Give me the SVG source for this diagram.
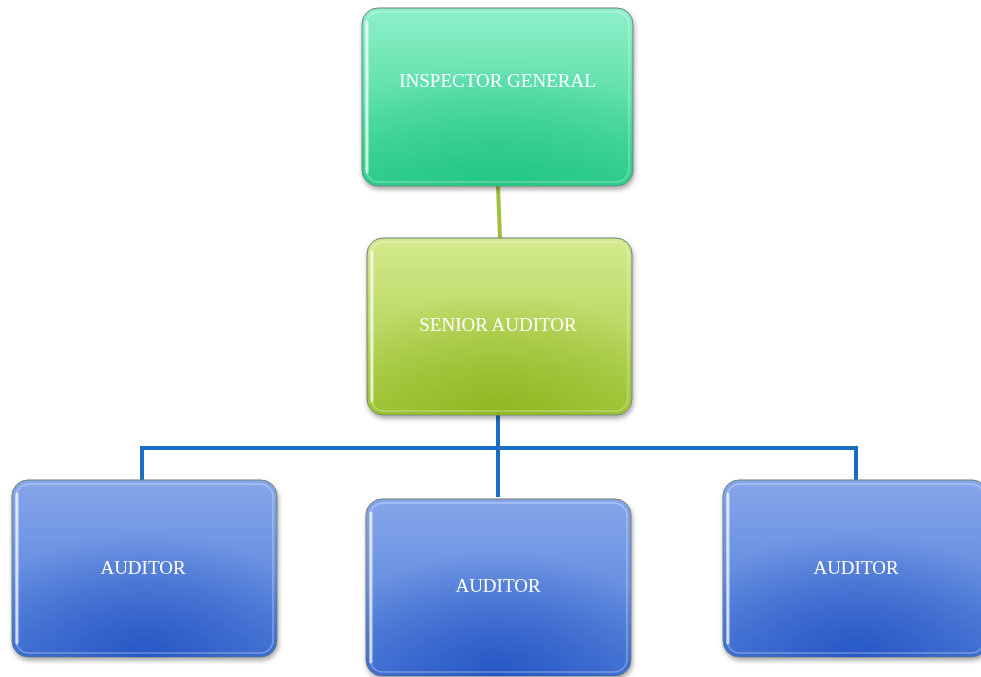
<svg xmlns="http://www.w3.org/2000/svg" width="981" height="677" viewBox="0 0 981 677">
<style>
.lbl{font-family:"Liberation Serif","DejaVu Serif",serif;font-size:19px;fill:#ffffff;text-anchor:middle}
.box{stroke:#6f7f78;stroke-width:1}
.hl{fill:none;stroke:#ffffff;stroke-opacity:0.3;stroke-width:1.5}
.hle{fill:none;stroke:#ffffff;stroke-opacity:0.7;stroke-width:3;stroke-linecap:round}
.conn-b{fill:none;stroke:#1a6fc4;stroke-width:4}
.conn-g{fill:none;stroke:#9fbf3a;stroke-width:4}
</style>
<defs>
<filter id="sh" x="-10%" y="-10%" width="120%" height="125%">
<feGaussianBlur in="SourceAlpha" stdDeviation="2.5"/>
<feOffset dx="1" dy="3" result="b"/>
<feComponentTransfer><feFuncA type="linear" slope="0.35"/></feComponentTransfer>
<feMerge><feMergeNode/><feMergeNode in="SourceGraphic"/></feMerge>
</filter>
<linearGradient id="gT" x1="0" y1="0" x2="0" y2="1">
<stop offset="0" stop-color="#8ef0c9"/>
<stop offset="1" stop-color="#2fcf8e"/>
</linearGradient>
<radialGradient id="gTr" cx="0.5" cy="1" r="0.7">
<stop offset="0" stop-color="#22c482" stop-opacity="0.8"/>
<stop offset="1" stop-color="#22c482" stop-opacity="0"/>
</radialGradient>
<linearGradient id="gS" x1="0" y1="0" x2="0" y2="1">
<stop offset="0" stop-color="#d4e98e"/>
<stop offset="1" stop-color="#a3c93c"/>
</linearGradient>
<radialGradient id="gSr" cx="0.5" cy="1" r="0.7">
<stop offset="0" stop-color="#8cb51e" stop-opacity="0.85"/>
<stop offset="1" stop-color="#8cb51e" stop-opacity="0"/>
</radialGradient>
<linearGradient id="gA" x1="0" y1="0" x2="0" y2="1">
<stop offset="0" stop-color="#86a6ea"/>
<stop offset="1" stop-color="#4a79d6"/>
</linearGradient>
<radialGradient id="gAr" cx="0.5" cy="1" r="0.7">
<stop offset="0" stop-color="#2354c4" stop-opacity="0.9"/>
<stop offset="1" stop-color="#2354c4" stop-opacity="0"/>
</radialGradient>
</defs>
<rect width="981" height="677" fill="#ffffff"/>
<g id="connectors">
<polyline class="conn-g" points="498,186 499,212 500,238"/>
<polyline class="conn-b" points="498,415 498,497"/>
<polyline class="conn-b" points="142,481 142,448 856,448 856,481"/>
</g>
<g id="inspector-general" filter="url(#sh)">
<rect class="box" x="362" y="8" width="271" height="178" rx="16" fill="url(#gT)"/>
<rect x="362" y="8" width="271" height="178" rx="16" fill="url(#gTr)"/>
<rect class="hl" x="366" y="12" width="263" height="170" rx="13"/>
<line class="hle" x1="367" y1="22" x2="367" y2="172"/>
<text class="lbl" x="497.5" y="87">INSPECTOR GENERAL</text>
</g>
<g id="senior-auditor" filter="url(#sh)">
<rect class="box" x="367" y="238" width="265" height="177" rx="16" fill="url(#gS)"/>
<rect x="367" y="238" width="265" height="177" rx="16" fill="url(#gSr)"/>
<rect class="hl" x="371" y="242" width="257" height="169" rx="13"/>
<line class="hle" x1="372" y1="252" x2="372" y2="401"/>
<text class="lbl" x="498" y="331">SENIOR AUDITOR</text>
</g>
<g id="auditor-1" filter="url(#sh)">
<rect class="box" x="12" y="480" width="265" height="177" rx="16" fill="url(#gA)"/>
<rect x="12" y="480" width="265" height="177" rx="16" fill="url(#gAr)"/>
<rect class="hl" x="16" y="484" width="257" height="169" rx="13"/>
<line class="hle" x1="17" y1="494" x2="17" y2="643"/>
<text class="lbl" x="143" y="574">AUDITOR</text>
</g>
<g id="auditor-2" filter="url(#sh)">
<rect class="box" x="366" y="499" width="265" height="177" rx="16" fill="url(#gA)"/>
<rect x="366" y="499" width="265" height="177" rx="16" fill="url(#gAr)"/>
<rect class="hl" x="370" y="503" width="257" height="169" rx="13"/>
<line class="hle" x1="371" y1="513" x2="371" y2="662"/>
<text class="lbl" x="498" y="592">AUDITOR</text>
</g>
<g id="auditor-3" filter="url(#sh)">
<rect class="box" x="723" y="480" width="265" height="177" rx="16" fill="url(#gA)"/>
<rect x="723" y="480" width="265" height="177" rx="16" fill="url(#gAr)"/>
<rect class="hl" x="727" y="484" width="257" height="169" rx="13"/>
<line class="hle" x1="728" y1="494" x2="728" y2="643"/>
<text class="lbl" x="856" y="574">AUDITOR</text>
</g>
</svg>
